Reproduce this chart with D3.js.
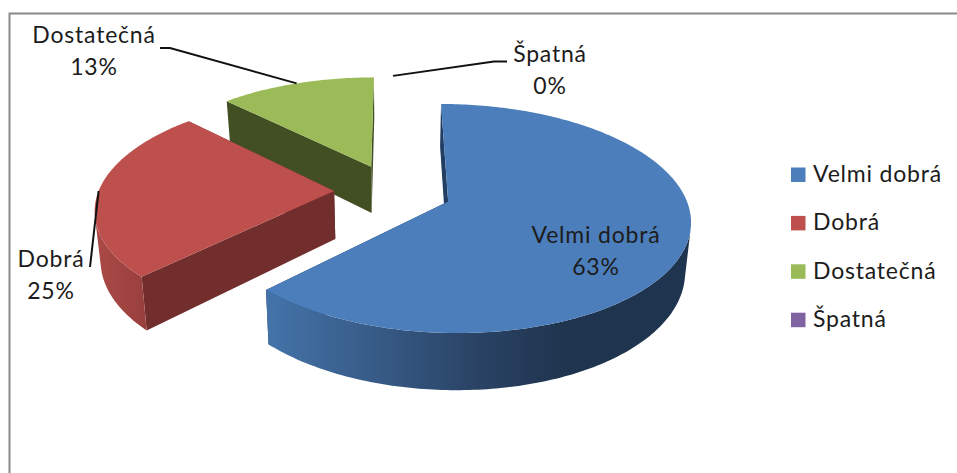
<!DOCTYPE html>
<html>
<head>
<meta charset="utf-8">
<script src="https://cdn.jsdelivr.net/npm/d3@7/dist/d3.min.js"></script>
<style>
html,body{margin:0;padding:0;background:#fff;overflow:hidden}
svg{display:block}
text{font-family:Lato,"Open Sans",sans-serif;font-size:23px;letter-spacing:.8px;fill:#1c1c1c}
</style>
</head>
<body>
<div id="chart"></div>
<script>
const categories = ["Velmi dobrá", "Dobrá", "Dostatečná", "Špatná"];
const values = [62.5, 25, 12.5, 0];
const topColors = ["#4c7ebb", "#bd4f4c", "#9bbb59", "#8064a2"];
const edgeColors = ["#223f63", "#722e2d", "#414f23", "#4a3a5e"];
const wallStops = [
  [[265, "#4474aa"], [477, "#2a4365"], [565, "#1f344e"], [700, "#1f344e"]],
  [[95, "#ab4a47"], [146, "#983f3d"]],
  [[229, "#414f23"], [374, "#414f23"]],
  [[390, "#4a3a5e"], [395, "#4a3a5e"]]
];

// projection of the tilted pie
const W = 957, H = 473, cx = 393, cy = 191;
const radiusX = 235.5, radiusY = 108.9, persp = 0.146, thickness = 48, explode = 0.25, taper = 0.02;
const project = (u, v, z = 0) => {
  const s = 1 / (1 + persp * v);
  return [cx + radiusX * u * s * (1 - taper * z), cy - radiusY * v * s + thickness * z * s];
};

// label layout: text centre, first baseline, line gap, leader knee points
const labelLayout = [
  {x: 596, y: 243, leader: null},
  {x: 51,  y: 267, leader: [[90, 267]]},
  {x: 94,  y: 43,  leader: [[170, 48], [160, 48]]},
  {x: 550, y: 62,  leader: [[494, 61.5], [507, 61.5]]}
];
const labelGap = 32;
const legendLayout = {swatchX: 791, swatch: 14.5, textX: 813, firstBaseline: 182, step: 48.4};

const svg = d3.select("#chart").append("svg").attr("width", W).attr("height", H);
const defs = svg.append("defs");

// chart frame (only the top and left edges are in the crop)
svg.append("path")
  .attr("d", d3.line()([[W, 13.5], [9.5, 13.5], [9.5, H]]))
  .attr("fill", "none").attr("stroke", "#8a8a8a").attr("stroke-width", 2);

const pie = d3.pie().sort(null).value(d => d).startAngle(0).endAngle(2 * Math.PI);
const arcs = pie(values);
const line = d3.line();

const slices = arcs.map((a, i) => {
  const mid = (a.startAngle + a.endAngle) / 2;
  const ox = explode * Math.sin(mid), oy = explode * Math.cos(mid);
  const n = Math.max(2, Math.ceil((a.endAngle - a.startAngle) * 60));
  const angles = d3.range(n + 1).map(k => a.startAngle + (a.endAngle - a.startAngle) * k / n);
  const rim = z => angles.map(t => project(ox + Math.sin(t), oy + Math.cos(t), z));
  return {i, a, mid, ox, oy, rim, apex: z => project(ox, oy, z)};
});

// back to front: Špatná, Dostatečná, Dobrá, Velmi dobrá
[3, 2, 1, 0].forEach(idx => {
  const s = slices[idx];
  if (values[idx] === 0) return;
  const g = svg.append("g");
  const grad = defs.append("linearGradient").attr("id", "wall" + idx)
    .attr("gradientUnits", "userSpaceOnUse")
    .attr("x1", wallStops[idx][0][0]).attr("x2", wallStops[idx][wallStops[idx].length - 1][0])
    .attr("y1", 0).attr("y2", 0);
  const x0 = wallStops[idx][0][0], x1 = wallStops[idx][wallStops[idx].length - 1][0];
  wallStops[idx].forEach(st => grad.append("stop")
    .attr("offset", (st[0] - x0) / (x1 - x0)).attr("stop-color", st[1]));

  const top = s.rim(0), bottom = s.rim(1);
  // radial walls
  [0, top.length - 1].forEach(k => {
    g.append("path")
      .attr("d", line([s.apex(0), top[k], bottom[k], s.apex(1)]) + "Z")
      .attr("fill", edgeColors[idx]);
  });
  // outer wall: only the quads that face the viewer, so the silhouette stays straight
  const quads = d3.range(top.length - 1)
    .map(k => [top[k], top[k + 1], bottom[k + 1], bottom[k]])
    .filter(q => d3.polygonArea(q) > 0);
  g.append("path")
    .attr("d", quads.map(q => line(q) + "Z").join(""))
    .attr("fill", `url(#wall${idx})`);
  // top face
  g.append("path")
    .attr("d", line([s.apex(0)].concat(top)) + "Z")
    .attr("fill", topColors[idx]);
});

// leader lines start on the rim of their slice
slices.forEach((s, i) => {
  const L = labelLayout[i];
  if (!L.leader) return;
  const start = project(s.ox + Math.sin(s.mid), s.oy + Math.cos(s.mid));
  svg.append("path")
    .attr("d", line([start].concat(L.leader)))
    .attr("fill", "none").attr("stroke", "#111").attr("stroke-width", 2);
});

// data labels
const pct = v => Math.round(v) + "%";
categories.forEach((c, i) => {
  const L = labelLayout[i];
  const t = svg.append("text").attr("text-anchor", "middle");
  t.append("tspan").attr("x", L.x).attr("y", L.y).text(c);
  t.append("tspan").attr("x", L.x).attr("y", L.y + labelGap).text(pct(values[i]));
});

// legend
const lg = svg.append("g").selectAll("g").data(categories).join("g");
lg.append("rect")
  .attr("x", legendLayout.swatchX)
  .attr("y", (d, i) => legendLayout.firstBaseline + i * legendLayout.step - legendLayout.swatch)
  .attr("width", legendLayout.swatch).attr("height", legendLayout.swatch)
  .attr("fill", (d, i) => topColors[i]);
lg.append("text")
  .attr("x", legendLayout.textX)
  .attr("y", (d, i) => legendLayout.firstBaseline + i * legendLayout.step)
  .text(d => d);
</script>
</body>
</html>
